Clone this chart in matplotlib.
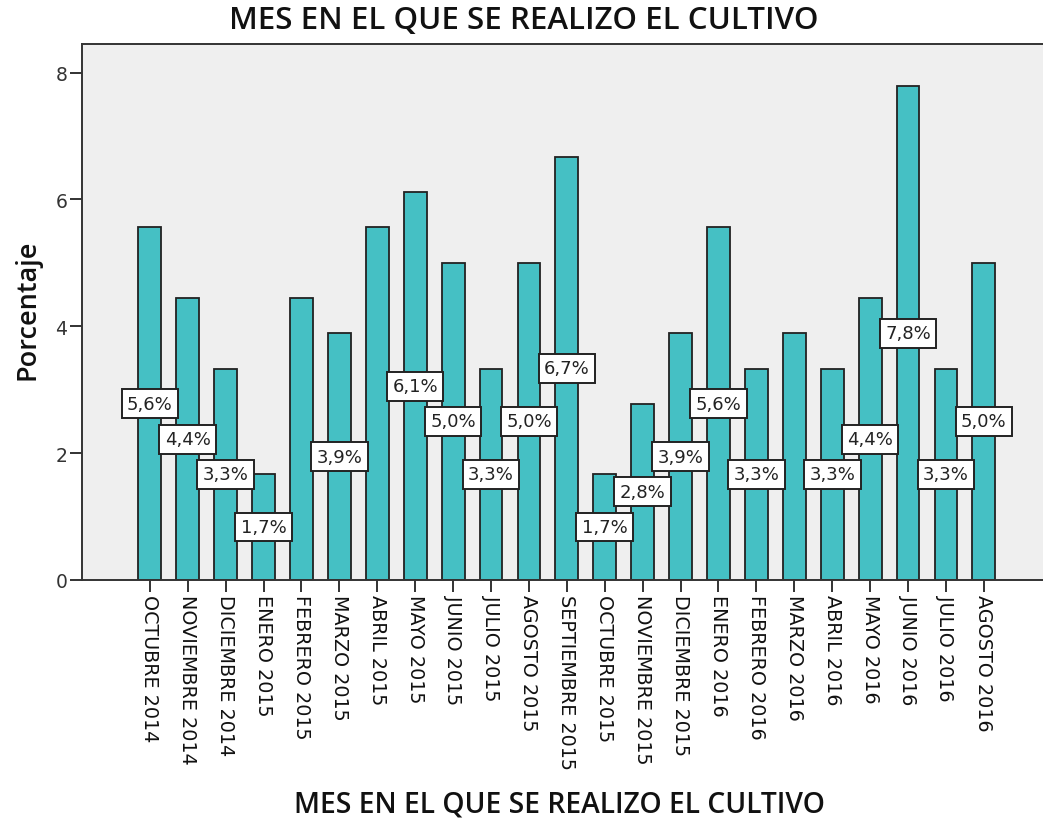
import matplotlib
matplotlib.use("Agg")
import matplotlib.pyplot as plt
import numpy as np

categories = ["OCTUBRE 2014", "NOVIEMBRE 2014", "DICIEMBRE 2014", "ENERO 2015",
              "FEBRERO 2015", "MARZO 2015", "ABRIL 2015", "MAYO 2015", "JUNIO 2015",
              "JULIO 2015", "AGOSTO 2015", "SEPTIEMBRE 2015", "OCTUBRE 2015",
              "NOVIEMBRE 2015", "DICIEMBRE 2015", "ENERO 2016", "FEBRERO 2016",
              "MARZO 2016", "ABRIL 2016", "MAYO 2016", "JUNIO 2016", "JULIO 2016",
              "AGOSTO 2016"]
values = [5.56, 4.44, 3.33, 1.67, 4.44, 3.89, 5.56, 6.11, 5.00, 3.33, 5.00, 6.67,
          1.67, 2.78, 3.89, 5.56, 3.33, 3.89, 3.33, 4.44, 7.78, 3.33, 5.00]
# labels shown in the chart (some hidden by the original software)
shown_labels = [True, True, True, True, False, True, False, True, True, True, True, True,
                True, True, True, True, True, False, True, True, True, True, True]
y_ticks = [0, 2, 4, 6, 8]

fig = plt.figure(figsize=(10.43, 8.2), dpi=100)
ax = fig.add_axes([82/1043, 1-581/820, 1-82/1043, (581-45)/820])
ax.set_facecolor("#EFEFEF")

x = np.arange(len(categories))
ax.bar(x, values, width=0.6, color="#45C0C4", edgecolor="#222222", linewidth=1.3, zorder=2)

for xi, v, s in zip(x, values, shown_labels):
    if s:
        ax.text(xi, v/2, f"{v:.1f}%".replace(".", ","), ha="center", va="center",
                fontsize=13, color="#222222", family="DejaVu Sans", zorder=4,
                bbox=dict(boxstyle="square,pad=0.3", facecolor="white",
                          edgecolor="#222222", linewidth=1.4))

ax.set_xlim(-1.79, 23.56)
ax.set_ylim(0, 8.45)
ax.set_yticks(y_ticks)
ax.set_yticklabels([str(t) for t in y_ticks], fontsize=13.5, color="#333333",
                   family="DejaVu Sans")
ax.set_xticks(x)
ax.set_xticklabels(categories, rotation=270, fontsize=13.8, color="#111111",
                   va="top", ha="center", family="DejaVu Sans")
ax.tick_params(axis="both", direction="out", length=8.5, width=1.3, color="#222222")
ax.tick_params(axis="x", pad=1.5)
ax.tick_params(axis="y", pad=2)
for side in ["left", "bottom", "top"]:
    ax.spines[side].set_linewidth(1.4)
    ax.spines[side].set_color("#333333")
ax.spines["right"].set_visible(False)

fig.text(524/1043, 1-21/820, "MES EN EL QUE SE REALIZO EL CULTIVO", ha="center", va="center",
         fontsize=22.5, fontweight="semibold", family="Open Sans", color="#111111")
fig.text(559/1043, 1-805/820, "MES EN EL QUE SE REALIZO EL CULTIVO", ha="center", va="center",
         fontsize=20.3, fontweight="semibold", family="Open Sans", color="#111111")
fig.text(28/1043, 1-310/820, "Porcentaje", ha="center", va="center", rotation=90,
         fontsize=19.5, fontweight="semibold", family="Open Sans", color="#111111")

fig.savefig("out.png", dpi=100)
